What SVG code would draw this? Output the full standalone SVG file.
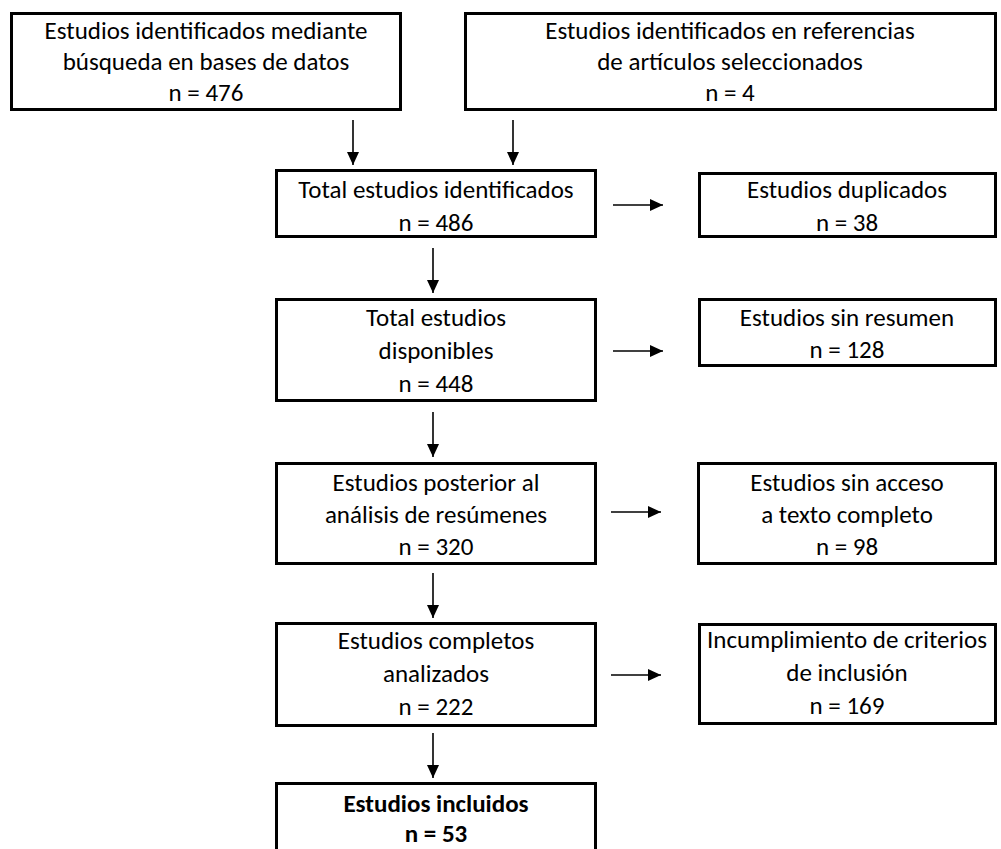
<svg xmlns="http://www.w3.org/2000/svg" width="1001" height="849" viewBox="0 0 1001 849">
<style>
  .box { fill: #ffffff; stroke: #000000; stroke-width: 3; }
  .t { font-family: Carlito, Calibri, Lato, "Liberation Sans", sans-serif; font-size: 25px; fill: #000000; text-anchor: middle; }
  .b { font-weight: bold; }
  .c { stroke: #000000; stroke-width: 1.6; fill: none; marker-end: url(#ah); }
</style>
<defs>
  <marker id="ah" markerUnits="userSpaceOnUse" markerWidth="14" markerHeight="12" refX="13" refY="6" orient="auto">
    <path d="M0,0 L13,6 L0,12 Z" fill="#000000"/>
  </marker>
</defs>
<rect width="1001" height="849" fill="#ffffff"/>
<g id="connectors">
  <line class="c" x1="353" y1="120" x2="353" y2="165"/>
  <line class="c" x1="513" y1="120" x2="513" y2="165"/>
  <line class="c" x1="613" y1="205" x2="663" y2="205"/>
  <line class="c" x1="433" y1="248" x2="433" y2="293"/>
  <line class="c" x1="613" y1="351" x2="663" y2="351"/>
  <line class="c" x1="433" y1="412" x2="433" y2="457"/>
  <line class="c" x1="611" y1="512" x2="661" y2="512"/>
  <line class="c" x1="433" y1="573" x2="433" y2="618"/>
  <line class="c" x1="611" y1="675" x2="661" y2="675"/>
  <line class="c" x1="433" y1="733" x2="433" y2="778"/>
</g>
<g id="n1">
  <rect class="box" x="11.5" y="13.5" width="389" height="96"/>
  <text class="t" x="206" y="39">Estudios identificados mediante</text>
  <text class="t" x="206" y="70">búsqueda en bases de datos</text>
  <text class="t" x="206" y="101">n = 476</text>
</g>
<g id="n2">
  <rect class="box" x="465.5" y="13.5" width="530" height="96"/>
  <text class="t" x="730" y="39">Estudios identificados en referencias</text>
  <text class="t" x="730" y="70">de artículos seleccionados</text>
  <text class="t" x="730" y="101">n = 4</text>
</g>
<g id="n3">
  <rect class="box" x="276.5" y="170.5" width="319" height="66"/>
  <text class="t" x="436" y="198">Total estudios identificados</text>
  <text class="t" x="436" y="231">n = 486</text>
</g>
<g id="n4">
  <rect class="box" x="699.5" y="173.5" width="296" height="63"/>
  <text class="t" x="847" y="198">Estudios duplicados</text>
  <text class="t" x="847" y="231">n = 38</text>
</g>
<g id="n5">
  <rect class="box" x="276.5" y="299.5" width="319" height="101"/>
  <text class="t" x="436" y="326">Total estudios</text>
  <text class="t" x="436" y="359">disponibles</text>
  <text class="t" x="436" y="392">n = 448</text>
</g>
<g id="n6">
  <rect class="box" x="699.5" y="299.5" width="296" height="66"/>
  <text class="t" x="847" y="326">Estudios sin resumen</text>
  <text class="t" x="847" y="358">n = 128</text>
</g>
<g id="n7">
  <rect class="box" x="276.5" y="463.5" width="319" height="100"/>
  <text class="t" x="436" y="491">Estudios posterior al</text>
  <text class="t" x="436" y="523">análisis de resúmenes</text>
  <text class="t" x="436" y="555">n = 320</text>
</g>
<g id="n8">
  <rect class="box" x="698.5" y="463.5" width="297" height="100"/>
  <text class="t" x="847" y="491">Estudios sin acceso</text>
  <text class="t" x="847" y="523">a texto completo</text>
  <text class="t" x="847" y="555">n = 98</text>
</g>
<g id="n9">
  <rect class="box" x="276.5" y="623.5" width="319" height="102"/>
  <text class="t" x="436" y="649">Estudios completos</text>
  <text class="t" x="436" y="682">analizados</text>
  <text class="t" x="436" y="715">n = 222</text>
</g>
<g id="n10">
  <rect class="box" x="699.5" y="624.5" width="296" height="99"/>
  <text class="t" x="847" y="648">Incumplimiento de criterios</text>
  <text class="t" x="847" y="681">de inclusión</text>
  <text class="t" x="847" y="714">n = 169</text>
</g>
<g id="n11">
  <rect class="box" x="276.5" y="783.5" width="319" height="80"/>
  <text class="t b" x="436" y="812">Estudios incluidos</text>
  <text class="t b" x="436" y="842">n = 53</text>
</g>
</svg>
